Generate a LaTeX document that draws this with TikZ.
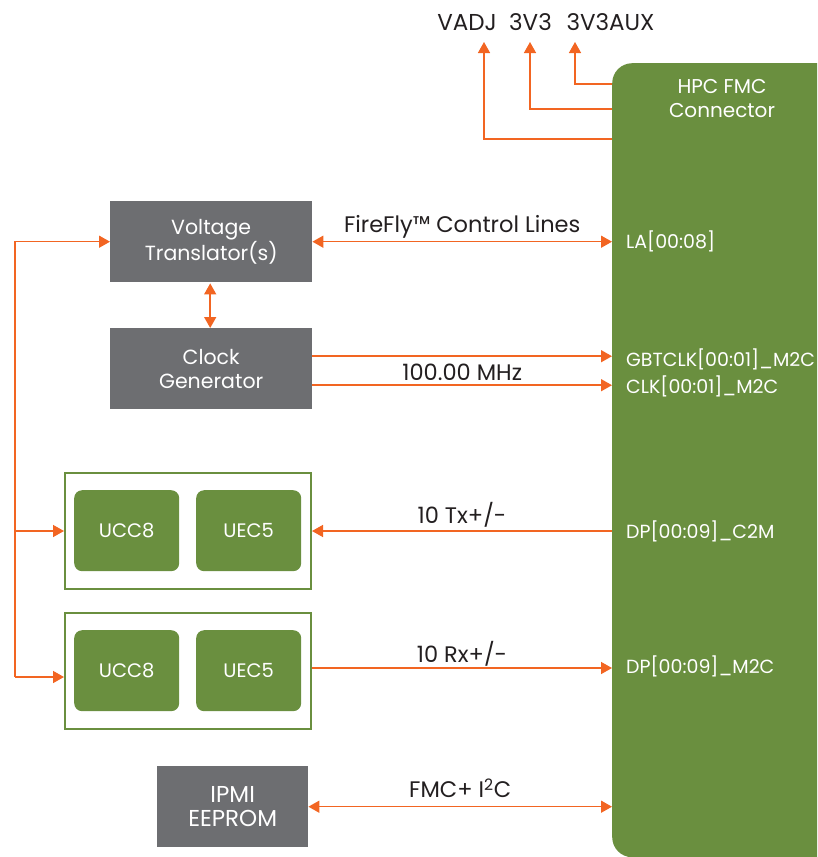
\documentclass[tikz,border=0pt]{standalone}
\usepackage{fontspec}
\setmainfont{Poppins}
\usetikzlibrary{arrows.meta}
\definecolor{fgreen}{HTML}{6A8F3F}
\definecolor{fgray}{HTML}{6D6E71}
\definecolor{forange}{HTML}{F26522}
\definecolor{ftext}{HTML}{231F20}
\begin{document}
\begin{tikzpicture}[x=1pt,y=-1pt,
  every node/.style={font=\fontsize{20}{24}\selectfont, inner sep=0pt},
  conn/.style={draw=forange, line width=1.5pt, -{Triangle[length=11pt,width=12pt]}},
  biconn/.style={draw=forange, line width=1.5pt, {Triangle[length=11pt,width=12pt]}-{Triangle[length=11pt,width=12pt]}},
  graybox/.style={fill=fgray, text=white, align=center, anchor=north west, minimum height=81pt, font=\fontsize{20.5}{24}\selectfont},
  chip/.style={fill=fgreen, text=white, rounded corners=8pt, anchor=north west, minimum width=105pt, minimum height=81pt, font=\fontsize{19.5}{24}\selectfont},
  groupbox/.style={draw=fgreen, line width=2pt, anchor=north west, minimum width=246pt, minimum height=116pt},
  lbl/.style={text=ftext, font=\fontsize{22.5}{26}\selectfont},
  pin/.style={text=white, anchor=base west, font=\fontsize{19}{24}\selectfont}
]
\useasboundingbox (0,0) rectangle (817,857);
\clip (0,0) rectangle (817,857);

% FMC connector
\node[fill=fgreen, rounded corners=20pt, anchor=north west, minimum width=260pt, minimum height=794pt] (fmc) at (612,63) {};
\node[text=white, align=center] (fmct) at (722,99) {HPC FMC\\Connector};

% power rails
\node[lbl, anchor=base, font=\fontsize{23}{26}\selectfont] (vadj) at (467,30) {VADJ};
\node[lbl, anchor=base, font=\fontsize{23}{26}\selectfont] (v33) at (530.5,30) {3V3};
\node[lbl, anchor=base, font=\fontsize{23}{26}\selectfont] (v33aux) at (610.5,30) {3V3AUX};
\coordinate (pv1) at (612,84);
\coordinate (pv2) at (612,109);
\coordinate (pv3) at (612,139);
\coordinate (tv1) at (575,42);
\coordinate (tv2) at (530,42);
\coordinate (tv3) at (484,42);
\draw[conn] (pv1) -| (tv1);
\draw[conn] (pv2) -| (tv2);
\draw[conn] (pv3) -| (tv3);

% blocks
\node[graybox, minimum width=202pt] (vt) at (110,201) {Voltage\\Translator(s)};
\node[graybox, minimum width=202pt] (cg) at (110,328) {Clock\\Generator};
\node[graybox, minimum width=151pt, font=\fontsize{23}{23.5}\selectfont] (ipmi) at (157,766) {IPMI\\EEPROM};

\node[groupbox] (g1) at (64,472) {};
\node[chip] (ucc1) at (74,490) {UCC8};
\node[chip] (uec1) at (196,490) {UEC5};
\node[groupbox] (g2) at (64,612) {};
\node[chip] (ucc2) at (74,630) {UCC8};
\node[chip] (uec2) at (196,630) {UEC5};

% connector pins
\node[pin] (la) at (626,248) {LA[00:08]};
\node[pin] (gbt) at (626,366) {GBTCLK[00:01]\_M2C};
\node[pin] (clk) at (626,393) {CLK[00:01]\_M2C};
\node[pin] (c2m) at (626,538) {DP[00:09]\_C2M};
\node[pin] (m2c) at (626,673) {DP[00:09]\_M2C};

% links
\draw[biconn] (vt.east) -- (vt.east -| fmc.west) node[lbl, midway, anchor=base, yshift=9pt] (ffl) {FireFly™ Control Lines};
\draw[biconn] (vt.south) ++(-1,1) coordinate (a1) -- (a1 |- cg.north);
\draw[conn] ([yshift=12.5pt]cg.east) -- ([yshift=12.5pt]cg.east -| fmc.west);
\draw[conn] ([yshift=-16.5pt]cg.east) -- ([yshift=-16.5pt]cg.east -| fmc.west) node[lbl, midway, anchor=base, yshift=5pt] (mhz) {100.00 MHz};
\draw[conn] (g1.east -| fmc.west) -- (g1.east) node[lbl, midway, anchor=base, yshift=8pt] (tx) {10 Tx+/-};
\draw[conn] ([yshift=3pt]g2.east) -- ([yshift=3pt]g2.east -| fmc.west) node[lbl, midway, anchor=base, yshift=6pt] (rx) {10 Rx+/-};
\draw[biconn] (ipmi.east) -- (ipmi.east -| fmc.west) node[lbl, midway, anchor=base, yshift=9pt] (i2c) {FMC+ I\textsuperscript{2}C};

% left bus
\coordinate (busb) at (15,677);
\draw[conn] (busb) |- (vt.west);
\draw[conn] (busb) -- (busb -| g2.west);
\draw[conn] (g1.west -| busb) -- (g1.west);
\end{tikzpicture}
\end{document}
